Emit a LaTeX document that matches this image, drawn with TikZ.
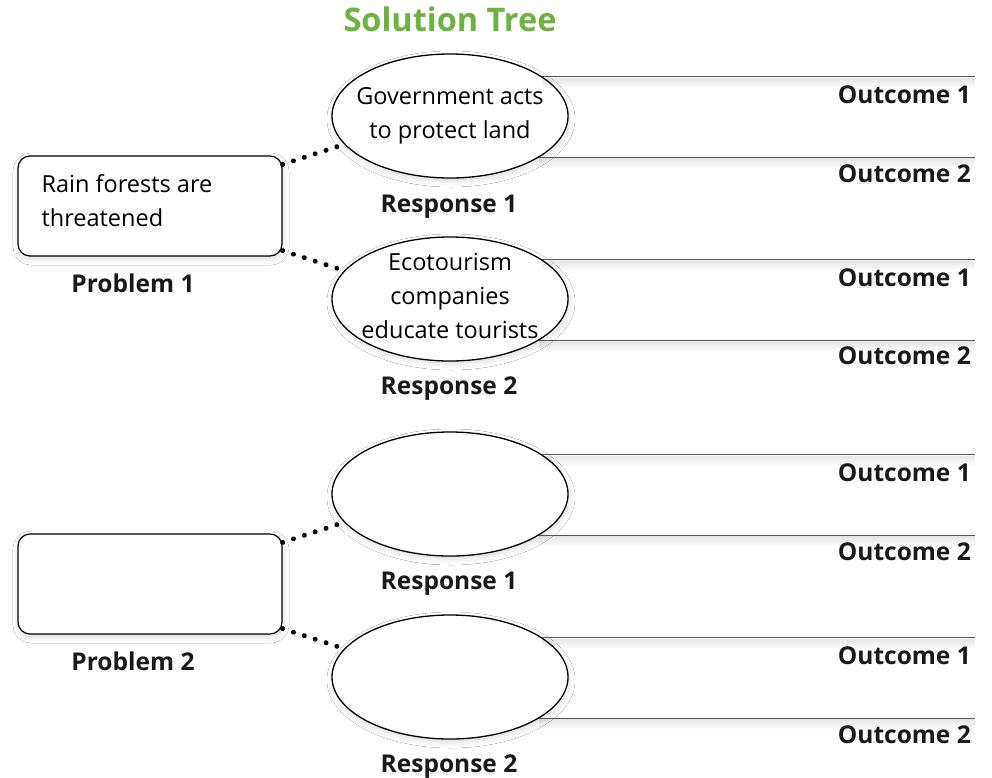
\documentclass[tikz,border=0pt]{standalone}
\usepackage{fontspec}
\setmainfont{Open Sans}
\newfontfamily\handfont{Open Sans}
\usetikzlibrary{shapes.geometric,shadows.blur,decorations.markings,calc,fadings}
\definecolor{treegreen}{RGB}{108,179,63}
\definecolor{rulegray}{RGB}{85,85,85}
\definecolor{labink}{RGB}{25,25,25}
\begin{document}
\begin{tikzpicture}[x=1pt,y=-1pt,
  softshadow/.style={blur shadow={shadow xshift=1pt,shadow yshift=-3pt,shadow blur radius=6pt,shadow opacity=14}},
  probbox/.style={draw,line width=1.2pt,rounded corners=12pt,fill=white,
    minimum width=264pt,minimum height=100pt,inner sep=0pt,softshadow},
  respell/.style={ellipse,draw,line width=1.3pt,fill=white,
    minimum width=236pt,minimum height=124pt,inner sep=0pt,softshadow},
  hand/.style={font=\handfont\fontsize{23.5}{34}\selectfont,align=center,inner sep=0pt},
  lab/.style={font=\bfseries\fontsize{24.5}{28}\selectfont,text=labink,inner sep=0pt},
  outline/.style={draw=rulegray,line width=1.2pt},
  lineshade/.style={fill=black,opacity=0.10,path fading=south,draw=none},
  dotline/.style={decoration={markings,
      mark=between positions 0 and 1 step 0.1999 with {\fill[black] (0,0) circle (2.5pt);}},
    decorate}
]
\useasboundingbox (0,0) rectangle (992,777);
\fill[white] (0,0) rectangle (992,777);
\coordinate (rx) at (975,0);

% title
\node[font=\bfseries\fontsize{32.5}{38}\selectfont,text=treegreen,anchor=base,inner sep=0pt]
  (title) at (450,31) {Solution Tree};

% ---------- group 1 ----------
\node[respell] (e1) at (450,116) {};
\node[respell] (e2) at (450,299) {};
\node[probbox] (p1) at (150,206) {};

\node[hand] (t1) at (e1) {Government acts\\to protect land};
\node[hand] (t2) at ([yshift=3pt]e2.center) {Ecotourism\\companies\\educate tourists};
\node[hand,align=left,anchor=west] (pt1) at ([xshift=24pt,yshift=5pt]p1.west) {Rain forests are\\threatened};

% ---------- group 2 ----------
\node[respell] (e3) at (450,494) {};
\node[respell] (e4) at (450,677) {};
\node[probbox] (p2) at (150,584) {};

% outcome lines with soft shading below
\foreach \e in {e1,e2,e3,e4}{
  \fill[lineshade] ($(\e.23)+(0,1)$) rectangle ($(\e.23 -| rx)+(0,11)$);
  \fill[lineshade] ($(\e.-25)+(0,1)$) rectangle ($(\e.-25 -| rx)+(0,11)$);
}
\foreach \e in {e1,e2,e3,e4}{
  \draw[outline] (\e.23) -- (\e.23 -| rx);
  \draw[outline] (\e.-25) -- (\e.-25 -| rx);
}

% dotted connectors
\path[dotline] ([yshift=-9pt]p1.north east) -- ($([yshift=-9pt]p1.north east)!57.1pt!(e1.195)$);
\path[dotline] ([yshift=6pt]p1.south east) -- ($([yshift=6pt]p1.south east)!57.1pt!(e2.165)$);
\path[dotline] ([yshift=-9pt]p2.north east) -- ($([yshift=-9pt]p2.north east)!57.1pt!(e3.195)$);
\path[dotline] ([yshift=6pt]p2.south east) -- ($([yshift=6pt]p2.south east)!57.1pt!(e4.165)$);

% labels
\node[lab,anchor=base] (pl1) at (133,292) {Problem 1};
\node[lab,anchor=base] (pl2) at (133,670) {Problem 2};
\node[lab,anchor=base] (r1) at (449,212) {Response 1};
\node[lab,anchor=base] (r2) at (449,394) {Response 2};
\node[lab,anchor=base] (r3) at (449,589) {Response 1};
\node[lab,anchor=base] (r4) at (449,772) {Response 2};

\node[lab,anchor=base east] (o1) at (971,103) {Outcome 1};
\node[lab,anchor=base east] (o2) at (971,182) {Outcome 2};
\node[lab,anchor=base east] (o3) at (971,286) {Outcome 1};
\node[lab,anchor=base east] (o4) at (971,364) {Outcome 2};
\node[lab,anchor=base east] (o5) at (971,481) {Outcome 1};
\node[lab,anchor=base east] (o6) at (971,560) {Outcome 2};
\node[lab,anchor=base east] (o7) at (971,664) {Outcome 1};
\node[lab,anchor=base east] (o8) at (971,743) {Outcome 2};
\end{tikzpicture}
\end{document}
